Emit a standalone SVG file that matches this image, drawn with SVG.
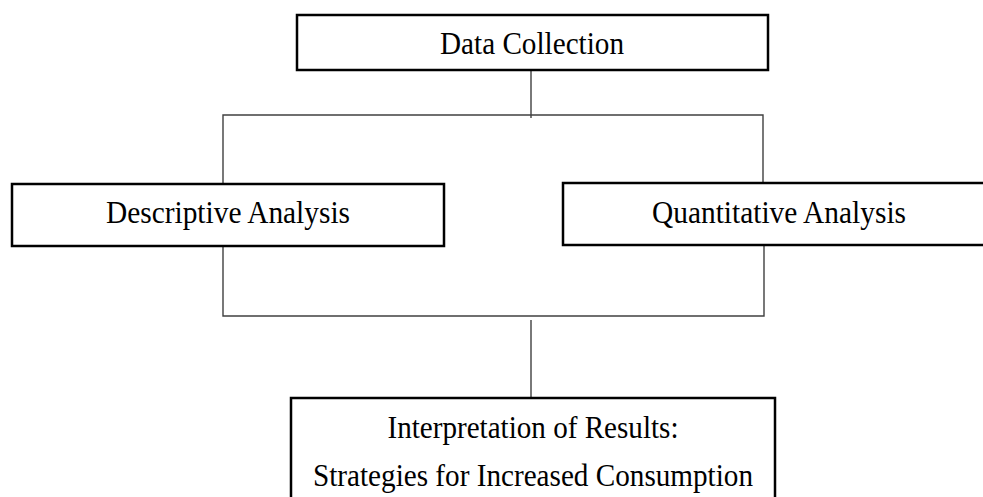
<svg xmlns="http://www.w3.org/2000/svg" width="983" height="497" viewBox="0 0 983 497">
<style>
.box{fill:#fff;stroke:#000;stroke-width:2.5}
.lbl{font-family:"Liberation Serif","Times New Roman",serif;font-size:31px;fill:#000;text-anchor:middle}
.con{stroke:#404040;stroke-width:1.4;fill:none}
</style>
<rect width="983" height="497" fill="#fff"/>
<g id="connectors">
<line class="con" x1="531" y1="70" x2="531" y2="118"/>
<polyline class="con" points="223,184 223,115 763,115 763,183"/>
<polyline class="con" points="223,246 223,316 764,316 764,245"/>
<line class="con" x1="531" y1="320" x2="531" y2="397"/>
</g>
<g id="data-collection">
<rect class="box" x="297" y="15" width="471" height="55"/>
<text class="lbl" x="532" y="54" textLength="184" lengthAdjust="spacingAndGlyphs">Data Collection</text>
</g>
<g id="descriptive-analysis">
<rect class="box" x="12" y="184" width="432" height="62"/>
<text class="lbl" x="228" y="223" textLength="244" lengthAdjust="spacingAndGlyphs">Descriptive Analysis</text>
</g>
<g id="quantitative-analysis">
<rect class="box" x="563" y="183" width="430" height="62"/>
<text class="lbl" x="779" y="223" textLength="254" lengthAdjust="spacingAndGlyphs">Quantitative Analysis</text>
</g>
<g id="interpretation">
<rect class="box" x="291" y="398" width="484" height="110"/>
<text class="lbl" x="533" y="438" textLength="291" lengthAdjust="spacingAndGlyphs">Interpretation of Results:</text>
<text class="lbl" x="533" y="486" textLength="440" lengthAdjust="spacingAndGlyphs">Strategies for Increased Consumption</text>
</g>
</svg>
